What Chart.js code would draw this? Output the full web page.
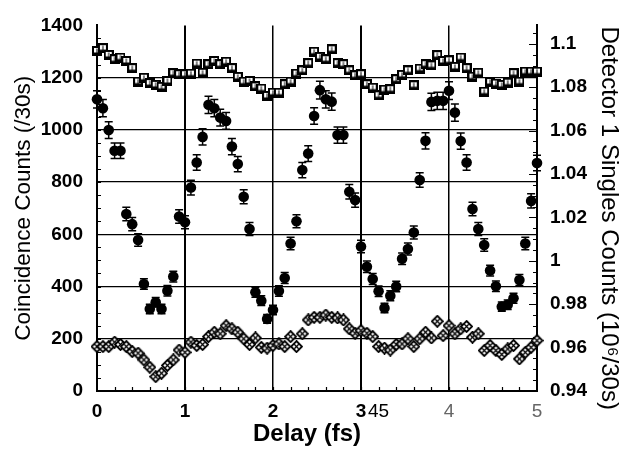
<!DOCTYPE html>
<html>
<head>
<meta charset="utf-8">
<script src="https://cdn.jsdelivr.net/npm/chart.js@4.4.1/dist/chart.umd.min.js"></script>
<style>
  html, body { margin: 0; padding: 0; background: #fff; }
  canvas { display: block; }
</style>
</head>
<body>
<canvas id="chart" width="631" height="449"></canvas>
<script>
// delay positions (fs), one per scan step
const delays = [
  0, 0.067, 0.133, 0.2, 0.267, 0.333, 0.4, 0.467, 0.533, 0.6, 0.667, 0.733, 0.8, 0.867, 0.933,
  1, 1.067, 1.133, 1.2, 1.267, 1.333, 1.4, 1.467, 1.533, 1.6, 1.667, 1.733, 1.8, 1.867, 1.933,
  2, 2.067, 2.133, 2.2, 2.267, 2.333, 2.4, 2.467, 2.533, 2.6, 2.667, 2.733, 2.8, 2.867, 2.933,
  3, 3.067, 3.133, 3.2, 3.267, 3.333, 3.4, 3.467, 3.533, 3.6, 3.667, 3.733, 3.8, 3.867, 3.933,
  4, 4.067, 4.133, 4.2, 4.267, 4.333, 4.4, 4.467, 4.533, 4.6, 4.667, 4.733, 4.8, 4.867, 4.933,
  5
];

// filled circles, coincidence counts (left axis)
const coincidence = [
  1117, 1083, 999, 920, 920, 678, 639, 578, 410, 314, 340, 314, 384, 438, 668, 646,
  779, 875, 973, 1096, 1083, 1047, 1034, 936, 869, 744, 620, 378, 346, 276, 310, 383,
  433, 565, 650, 846, 909, 1053, 1152, 1117, 1108, 980, 980, 763, 731,
  553, 476, 429, 382, 318, 365, 400, 506, 544, 607, 808, 958, 1107, 1111, 1111,
  1150, 1066, 957, 875, 697, 620, 559, 461, 401, 323, 330, 355, 425, 565, 728, 873
];

const coincidenceErr = [
  33, 33, 32, 30, 30, 26, 25, 24, 20, 18, 18, 18, 20, 21, 26, 25,
  28, 30, 31, 33, 33, 32, 32, 31, 29, 27, 25, 19, 19, 17, 18, 20,
  21, 24, 25, 29, 30, 32, 34, 33, 33, 31, 31, 28, 27,
  24, 22, 21, 20, 18, 19, 20, 22, 23, 25, 28, 31, 33, 33, 33,
  34, 33, 31, 30, 26, 25, 24, 21, 20, 18, 18, 19, 21, 24, 27, 30
];

// open diamonds, coincidence counts (left axis)
const background = [
  170, 170, 170, 187, 178, 170, 151, 145, 119, 91, 55, 68, 98, 119, 157, 148,
  187, 174, 178, 208, 225, 219, 250, 238, 225, 200, 178, 203, 167, 164, 174, 180,
  170, 208, 170, 219, 272, 282, 282, 291, 282, 280, 272, 238, 221, 231, 221, 208,
  170, 164, 157, 178, 180, 200, 170, 200, 225, 203, 267, 212, 250, 219, 238,
  247, 206, 219, 155, 174, 155, 140, 161, 174, 123, 148, 167, 193
];

// open squares, detector 1 singles (right axis, 10^6 / 30 s)
const singles = [
  1.0967, 1.098, 1.0949, 1.0929, 1.0937, 1.0921, 1.0888, 1.0826, 1.0844, 1.0819,
  1.0811, 1.0802, 1.0829, 1.0865, 1.086, 1.086, 1.0863, 1.0909, 1.0867, 1.0906,
  1.0921, 1.0906, 1.0918, 1.0888, 1.0848, 1.0826, 1.0829, 1.0804, 1.0794, 1.076,
  1.0775, 1.0775,
  1.0814, 1.0826, 1.0863, 1.0878, 1.0911, 1.0964, 1.094, 1.0929, 1.0975, 1.0911,
  1.0906, 1.0878, 1.0855, 1.086, 1.0814, 1.0798, 1.0763, 1.0789, 1.0791, 1.0837,
  1.0857, 1.0878, 1.0809, 1.0886, 1.0906, 1.0901, 1.0948, 1.0921, 1.0924, 1.0894,
  1.0937,
  1.0888, 1.0849, 1.0867, 1.078, 1.0824, 1.0817, 1.0811, 1.0821, 1.0865, 1.0826,
  1.0872, 1.0872, 1.0872
];

const xLabelValues = [0, 1, 2, 3, 3.2, 4, 5];
const xLabelTexts = ["0", "1", "2", "3", "45", "4", "5"];
const leftTicks = [0, 200, 400, 600, 800, 1000, 1200, 1400];
const rightTicks = [0.94, 0.96, 0.98, 1, 1.02, 1.04, 1.06, 1.08, 1.1];
const rightTickLabels = ["0.94", "0.96", "0.98", "1", "1.02", "1.04", "1.06", "1.08", "1.1"];

const FONT = "'Liberation Sans', Arial, Helvetica, sans-serif";
Chart.defaults.font.family = FONT;
Chart.defaults.color = "#000";

function toPoints(ys) {
  return delays.map((x, i) => ({ x, y: ys[i] }));
}

function makeSquareMarker() {
  const c = document.createElement("canvas");
  c.width = 10; c.height = 10;
  const g = c.getContext("2d");
  g.fillStyle = "#fff";
  g.fillRect(0, 0, 10, 10);
  g.strokeStyle = "#000";
  g.lineWidth = 2;
  g.strokeRect(1, 1, 8, 8);
  g.fillStyle = "#000";
  g.fillRect(4.5, 2.5, 1, 6);
  g.fillRect(2, 6.5, 6, 1.5);
  return c;
}

function makeDiamondMarker() {
  const c = document.createElement("canvas");
  c.width = 13; c.height = 13;
  const g = c.getContext("2d");
  g.strokeStyle = "#000";
  g.fillStyle = "#fff";
  g.lineWidth = 1.8;
  g.beginPath();
  g.moveTo(6.5, 1); g.lineTo(12, 6.5); g.lineTo(6.5, 12); g.lineTo(1, 6.5); g.closePath();
  g.fill(); g.stroke();
  g.lineWidth = 1.3;
  g.beginPath();
  g.moveTo(4.3, 4.3); g.lineTo(8.7, 8.7);
  g.moveTo(8.7, 4.3); g.lineTo(4.3, 8.7);
  g.stroke();
  return c;
}

// minor tick marks drawn inward, as on the original plot
const innerTicks = {
  id: "innerTicks",
  beforeDatasetsDraw(chart) {
    const { ctx, chartArea, scales } = chart;
    ctx.save();
    ctx.strokeStyle = "#000";
    ctx.lineWidth = 1.2;
    ctx.beginPath();
    for (let v = 50; v < 1400; v += 50) {
      const y = Math.round(scales.y.getPixelForValue(v)) + 0.5;
      ctx.moveTo(chartArea.left, y); ctx.lineTo(chartArea.left + 4, y);
    }
    for (let k = 1; k < 25; k++) {
      const x = Math.round(scales.x.getPixelForValue(k * 0.2)) + 0.5;
      ctx.moveTo(x, chartArea.bottom); ctx.lineTo(x, chartArea.bottom - 4);
    }
    for (let k = 1; k <= 33; k++) {
      const v = 0.94 + k * 0.005;
      const major = k % 4 === 0;
      const y = Math.round(scales.y1.getPixelForValue(v)) + 0.5;
      ctx.moveTo(chartArea.right, y); ctx.lineTo(chartArea.right - (major ? 8 : 4), y);
    }
    ctx.stroke();
    ctx.restore();
  }
};

const errorBars = {
  id: "errorBars",
  afterDatasetsDraw(chart) {
    const { ctx, scales } = chart;
    ctx.save();
    ctx.strokeStyle = "#000";
    ctx.lineWidth = 1.5;
    ctx.beginPath();
    coincidence.forEach((v, i) => {
      const x = scales.x.getPixelForValue(delays[i]);
      const yTop = scales.y.getPixelForValue(v + coincidenceErr[i]);
      const yBot = scales.y.getPixelForValue(v - coincidenceErr[i]);
      ctx.moveTo(x, yTop); ctx.lineTo(x, yBot);
      ctx.moveTo(x - 4, yTop); ctx.lineTo(x + 4, yTop);
      ctx.moveTo(x - 4, yBot); ctx.lineTo(x + 4, yBot);
    });
    ctx.stroke();
    ctx.restore();
  }
};

new Chart(document.getElementById("chart"), {
  type: "scatter",
  data: {
    datasets: [
      {
        label: "Detector 1 singles",
        data: toPoints(singles),
        yAxisID: "y1",
        pointStyle: makeSquareMarker(),
        clip: false
      },
      {
        label: "Background coincidences",
        data: toPoints(background),
        yAxisID: "y",
        pointStyle: makeDiamondMarker(),
        clip: false
      },
      {
        label: "Coincidences",
        data: toPoints(coincidence),
        yAxisID: "y",
        pointStyle: "circle",
        pointRadius: 5.3,
        backgroundColor: "#000",
        borderColor: "#000",
        borderWidth: 0,
        clip: false
      }
    ]
  },
  options: {
    responsive: false,
    animation: false,
    devicePixelRatio: 1,
    layout: { padding: { top: 24, left: 0, right: 0, bottom: 0 } },
    plugins: {
      legend: { display: false },
      tooltip: { enabled: false }
    },
    scales: {
      x: {
        type: "linear",
        position: "bottom",
        min: 0,
        max: 5,
        afterBuildTicks: s => { s.ticks = xLabelValues.map(v => ({ value: v })); },
        afterFit: s => { s.height = 58; },
        ticks: {
          autoSkip: false,
          maxRotation: 0,
          padding: 9,
          callback: (v, i) => xLabelTexts[i],
          font: c => ({ family: FONT, size: 19, weight: c.tick && c.tick.value <= 3 ? "bold" : "normal" }),
          color: c => (c.tick && c.tick.value >= 4 ? "#666" : "#000")
        },
        grid: {
          drawTicks: false,
          color: c => (c.tick && [1, 2, 3, 4].includes(c.tick.value) ? "#000" : "rgba(0,0,0,0)"),
          lineWidth: c => (c.tick && (c.tick.value === 1 || c.tick.value === 3) ? 2 : 1.5)
        },
        border: { display: true, color: "#000", width: 2 },
        title: {
          display: true,
          text: "Delay (fs)   ",
          font: { family: FONT, size: 24, weight: "bold" },
          padding: { top: 0, bottom: 0 }
        }
      },
      y: {
        position: "left",
        min: 0,
        max: 1400,
        afterBuildTicks: s => { s.ticks = leftTicks.map(v => ({ value: v })); },
        afterFit: s => { s.width = 97; },
        ticks: {
          padding: 14,
          font: { family: FONT, size: 19, weight: "bold" },
          callback: v => String(v)
        },
        grid: {
          drawTicks: false,
          color: c => (c.tick && c.tick.value > 0 && c.tick.value < 1400 ? "#000" : "rgba(0,0,0,0)"),
          lineWidth: 1.2
        },
        border: { display: true, color: "#000", width: 2 },
        title: {
          display: true,
          text: "Coincidence Counts (/30s)",
          font: { family: FONT, size: 22.5 },
          padding: { top: 10, bottom: 0 }
        }
      },
      y1: {
        position: "right",
        min: 0.94,
        max: 1.1085,
        afterBuildTicks: s => { s.ticks = rightTicks.map(v => ({ value: v })); },
        afterFit: s => { s.width = 94; },
        ticks: {
          padding: 13,
          font: { family: FONT, size: 19, weight: "bold" },
          callback: (v, i) => rightTickLabels[i]
        },
        grid: { display: false, drawTicks: false },
        border: { display: true, color: "#000", width: 2 },
        title: {
          display: true,
          text: "   Detector 1 Singles Counts (10\u2076/30s)",
          font: { family: FONT, size: 24 },
          padding: { top: 8, bottom: 0 }
        }
      }
    }
  },
  plugins: [innerTicks, errorBars]
});
</script>
</body>
</html>
